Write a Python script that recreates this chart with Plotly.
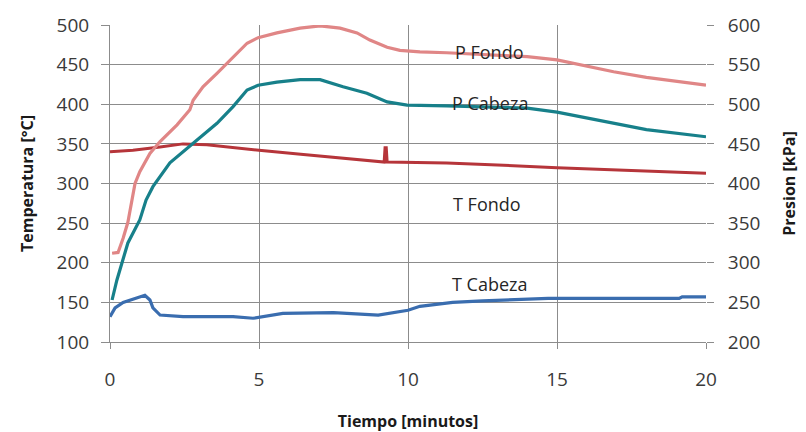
import plotly.graph_objects as go

# Tiempo [minutos] and readings for each series
t_pfondo = [0.07, 0.27, 0.44, 0.6, 0.84, 1.0, 1.34, 1.68, 2.25, 2.68, 2.79, 3.12, 3.59, 4.13, 4.6,
            4.97, 5.6, 6.38, 7.05, 7.72, 8.29, 8.72, 9.3, 9.73, 10.4, 11.3, 14.0, 15.0, 16.9, 18.0, 20.0]
p_fondo = [312, 313, 331, 351, 400, 415, 438, 453, 474, 493, 505, 522, 539, 560, 577,
           584, 590, 596, 599, 596, 590, 581, 572, 568, 566, 565, 560, 556, 541, 534, 524]

t_pcabeza = [0.07, 0.1, 0.23, 0.6, 1.0, 1.21, 1.44, 2.01, 2.79, 3.59, 4.13, 4.6, 4.97, 5.6, 6.38,
             7.05, 7.82, 8.62, 9.3, 9.97, 11.3, 14.0, 15.0, 16.9, 18.0, 20.0]
p_cabeza = [253, 258, 278, 325, 354, 379, 396, 426, 451, 476, 497, 518, 524, 528, 531,
            531, 522, 514, 503, 499, 498, 495, 490, 476, 468, 459]

t_tfondo = [0.0, 0.77, 1.68, 2.45, 3.25, 4.13, 5.0, 6.4, 7.7, 9.2, 9.23, 9.27, 9.3, 10.4, 11.3,
            15.0, 18.0, 20.0]
temp_fondo = [340, 342, 346, 350, 349, 345, 342, 337, 332, 327, 345, 345, 327, 326, 326,
              320, 316, 313]

t_tcabeza = [0.0, 0.17, 0.44, 1.0, 1.17, 1.34, 1.44, 1.68, 2.45, 4.13, 4.8, 5.8, 7.5, 9.0, 10.0,
             10.4, 11.5, 12.5, 14.7, 19.1, 19.2, 20.0]
temp_cabeza = [132, 143, 150, 157, 159, 153, 143, 134, 132, 132, 130, 136, 137, 134, 140,
               145, 150, 152, 155, 155, 157, 157]

x_ticks = [0, 5, 10, 15, 20]
temp_ticks = [100, 150, 200, 250, 300, 350, 400, 450, 500]
pres_ticks = [200, 250, 300, 350, 400, 450, 500, 550, 600]

labels = ["P Fondo", "P Cabeza", "T Fondo", "T Cabeza"]
label_x = [12.75, 12.75, 12.65, 12.75]
label_y = [566, 502, 274, 173]
label_axis = ["y2", "y2", "y", "y"]

GRID = "#8c8c8c"
TEXT = "#3a3a3a"
FONT = "Open Sans"

fig = go.Figure()
fig.add_trace(go.Scatter(x=t_pfondo, y=p_fondo, name="P Fondo", yaxis="y2", mode="lines",
                         line=dict(color="#e08686", width=3.2)))
fig.add_trace(go.Scatter(x=t_pcabeza, y=p_cabeza, name="P Cabeza", yaxis="y2", mode="lines",
                         line=dict(color="#17808a", width=3.2)))
fig.add_trace(go.Scatter(x=t_tfondo, y=temp_fondo, name="T Fondo", yaxis="y", mode="lines",
                         line=dict(color="#b6353a", width=3)))
fig.add_trace(go.Scatter(x=t_tcabeza, y=temp_cabeza, name="T Cabeza", yaxis="y", mode="lines",
                         line=dict(color="#3a6daf", width=3.2)))

for txt, lx, ly, ax in zip(labels, label_x, label_y, label_axis):
    fig.add_annotation(x=lx, y=ly, xref="x", yref=ax, text=txt, showarrow=False,
                       font=dict(family=FONT, size=18, color="#262626"))

fig.update_layout(
    width=806, height=432,
    margin=dict(l=110, r=100, t=25, b=90),
    paper_bgcolor="white", plot_bgcolor="white",
    showlegend=False,
    font=dict(family=FONT, color=TEXT),
    xaxis=dict(
        range=[0, 20], tickvals=x_ticks, ticks="outside", ticklen=6, tickcolor=GRID,
        showgrid=True, gridcolor=GRID, gridwidth=1, zeroline=False,
        showline=True, linecolor=GRID, linewidth=1, automargin=False,
        tickfont=dict(size=19, color=TEXT), ticklabelstandoff=14,
        title=dict(text="<b>Tiempo [minutos]</b>", font=dict(size=16, color="#1a1a1a"), standoff=32),
    ),
    yaxis=dict(
        range=[100, 500], tickvals=temp_ticks, ticks="outside", ticklen=8, tickcolor=GRID,
        showgrid=True, gridcolor=GRID, gridwidth=1, zeroline=False,
        showline=True, linecolor=GRID, linewidth=1, automargin=False,
        tickfont=dict(size=19, color=TEXT), ticklabelstandoff=8,
        title=dict(text="<b>Temperatura [°C]</b>", font=dict(size=16, color="#1a1a1a"), standoff=19),
    ),
    yaxis2=dict(
        range=[200, 600], tickvals=pres_ticks, overlaying="y", side="right",
        ticks="outside", ticklen=7, tickcolor=GRID, showgrid=False, zeroline=False,
        showline=False, automargin=False, tickfont=dict(size=19, color=TEXT), ticklabelstandoff=10,
        title=dict(text="<b>Presion [kPa]</b>", font=dict(size=16, color="#1a1a1a"), standoff=24),
    ),
)

fig.write_html("out.html")
